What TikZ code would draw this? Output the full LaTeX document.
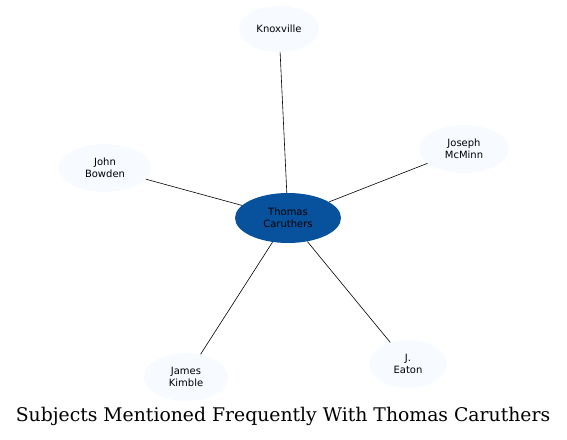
\documentclass[tikz,border=0pt]{standalone}
\usepackage{fontspec}
\newfontfamily\nodefont{DejaVu Sans}
\newfontfamily\titlefont{DejaVu Serif}
\usetikzlibrary{shapes.geometric}
\definecolor{darkblue}{RGB}{8,81,156}
\definecolor{paleblue}{RGB}{247,251,255}
\tikzset{
  ent/.style={ellipse, fill=paleblue, draw=none, inner sep=0pt, align=center, font=\nodefont\fontsize{10}{12}\selectfont},
  hub/.style={ent, fill=darkblue},
  link/.style={draw=black, line width=0.6pt}
}
\begin{document}
\begin{tikzpicture}[x=1pt,y=1pt]
\useasboundingbox (0,0) rectangle (567,-439);
\node[hub, minimum width=106pt, minimum height=50pt] (c) at (288,-218) {Thomas\\Caruthers};
\node[ent, minimum width=80pt, minimum height=46pt] (k) at (279,-29) {Knoxville};
\node[ent, minimum width=92pt, minimum height=48pt] (jb) at (105,-168) {John\\Bowden};
\node[ent, minimum width=90pt, minimum height=48pt] (jm) at (464,-149) {Joseph\\McMinn};
\node[ent, minimum width=84pt, minimum height=48pt] (jk) at (186,-377) {James\\Kimble};
\node[ent, minimum width=78pt, minimum height=48pt] (je) at (408,-364) {J.\\Eaton};
\draw[link] (c) -- (k);
\draw[link] (c) -- (jb);
\draw[link] (c) -- (jm);
\draw[link] (c) -- (jk);
\draw[link] (c) -- (je);
\node[font=\titlefont\fontsize{18.8}{22}\selectfont, inner sep=0pt] (title) at (283,-416) {Subjects Mentioned Frequently With Thomas Caruthers};
\end{tikzpicture}
\end{document}
